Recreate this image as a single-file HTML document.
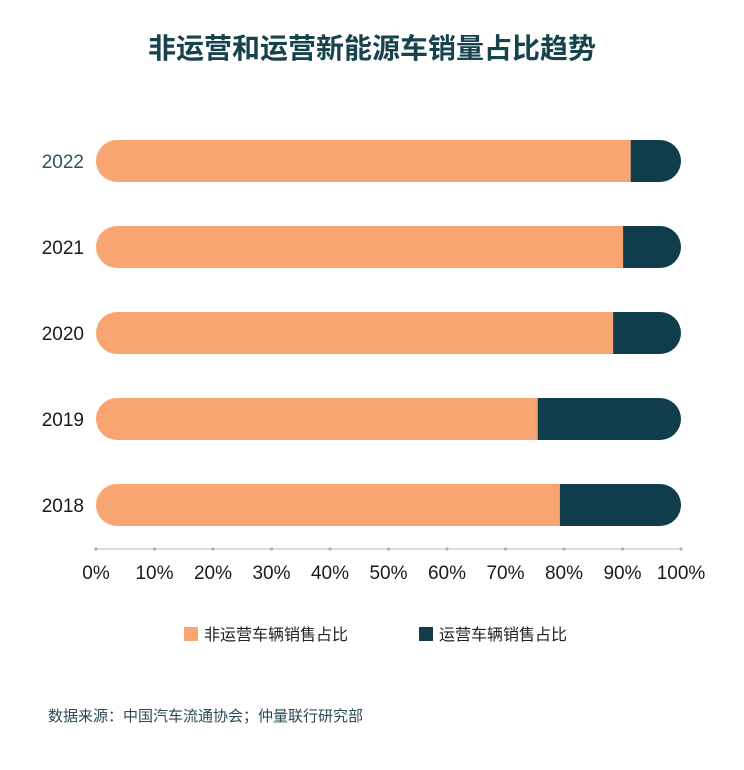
<!DOCTYPE html>
<html><head><meta charset="utf-8"><style>
body{margin:0;background:#fff;}
svg text{font-family:"Liberation Sans","Noto Sans CJK SC",sans-serif;}
</style></head><body>
<svg id="chart" width="744" height="765" viewBox="0 0 744 765" xmlns="http://www.w3.org/2000/svg">
<text x="372" y="58" text-anchor="middle" font-size="28" font-weight="bold" fill="#17434d">非运营和运营新能源车销量占比趋势</text>
<g id="bars"></g>
<g id="axis"></g>
<g>
<rect x="184" y="627" width="14" height="14" fill="#f9a572"/>
<text x="204" y="640" font-size="16" fill="#222">非运营车辆销售占比</text>
<rect x="419" y="627" width="14" height="14" fill="#0f3d4c"/>
<text x="439" y="640" font-size="16" fill="#222">运营车辆销售占比</text>
</g>
<text x="48" y="721" font-size="15" fill="#2a4a52">数据来源：中国汽车流通协会；仲量联行研究部</text>
</svg>
<script>
const years=["2022","2021","2020","2019","2018"];
const nonOperating=[91.4,90.1,88.4,75.5,79.3];
const operating=[8.6,9.9,11.6,24.5,20.7];
const ticks=[0,10,20,30,40,50,60,70,80,90,100];
const NS="http://www.w3.org/2000/svg";
const x0=96,x1=681,yTop=161,step=86,bh=42;
const xs=v=>x0+(x1-x0)*v/100;
const ys=i=>yTop+i*step;
const bars=document.getElementById('bars');
function mk(t,a,p){const e=document.createElementNS(NS,t);for(const k in a)e.setAttribute(k,a[k]);p.appendChild(e);return e;}
years.forEach((y,i)=>{
  const cy=ys(i);
  const g=mk('g',{},bars);
  
  
  const id='clip'+i;
  const cp=mk('clipPath',{id:id},g);
  mk('rect',{x:xs(0),y:cy-bh/2,width:xs(100)-xs(0),height:bh,rx:bh/2},cp);
  const total=nonOperating[i]+operating[i];
  const a=mk('rect',{x:xs(0),y:cy-bh/2,width:xs(nonOperating[i]/total*100)-xs(0),height:bh,fill:'#f9a572','clip-path':'url(#'+id+')'},g);
  
  
  const b=mk('rect',{x:xs(nonOperating[i]/total*100),y:cy-bh/2,width:xs(100)-xs(nonOperating[i]/total*100),height:bh,fill:'#0f3d4c','clip-path':'url(#'+id+')'},g);
  
  
  const t=mk('text',{x:84,y:cy+7,'text-anchor':'end','font-size':19,fill:i===0?'#2d5663':'#1a1a1a'},g);
  t.textContent=y;
  
  
});
const ax=document.getElementById('axis');
const line=mk('line',{x1:xs(0)-2,x2:xs(100),y1:549,y2:549,stroke:'#c9d6dc','stroke-width':1.5},ax);


ticks.forEach(v=>{
  const c=mk('circle',{cx:xs(v),cy:549,r:1.6,fill:'#9fb4bd'},ax);
  
  
  const t=mk('text',{x:xs(v),y:579,'text-anchor':'middle','font-size':19,fill:'#1a1a1a'},ax);
  t.textContent=v+'%';
  
  
});
</script>
</body></html>
